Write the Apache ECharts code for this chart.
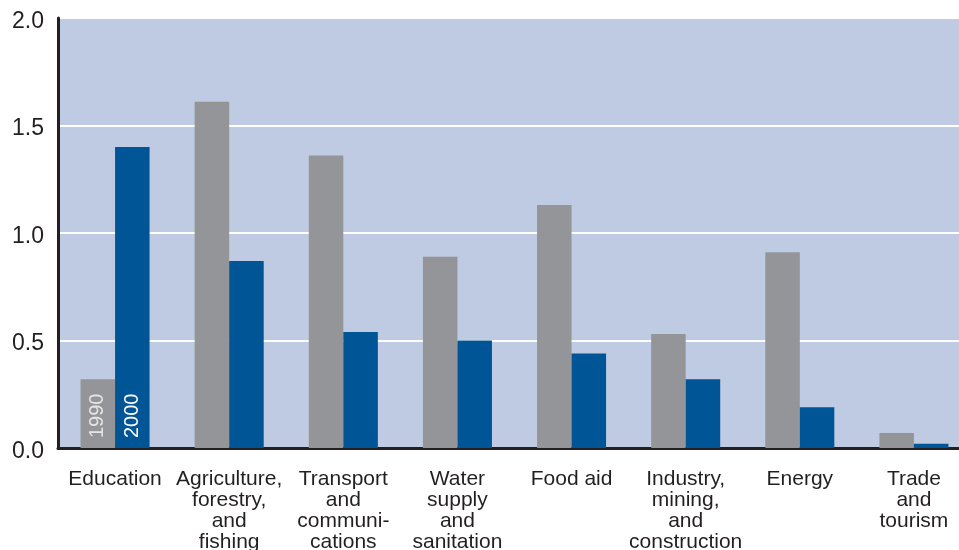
<!DOCTYPE html>
<html><head><meta charset="utf-8">
<script src="https://cdn.jsdelivr.net/npm/echarts@6/dist/echarts.min.js"></script>
<style>html,body{margin:0;padding:0;background:#fff}#c{width:959px;height:550px}</style>
</head><body><div id="c"></div>
<script>
const categories = ['Education','Agriculture,\nforestry,\nand\nfishing','Transport\nand\ncommuni-\ncations','Water\nsupply\nand\nsanitation','Food aid','Industry,\nmining,\nand\nconstruction','Energy','Trade\nand\ntourism'];
const values1990 = [0.32,1.61,1.36,0.89,1.13,0.53,0.91,0.07];
const values2000 = [1.40,0.87,0.54,0.50,0.44,0.32,0.19,0.02];
const yTicks = ['0.0','0.5','1.0','1.5','2.0'];
const font = 'Liberation Sans, Arial, Helvetica, sans-serif';
const chart = echarts.init(document.getElementById('c'));
function withLabel(arr, name, color){
  return arr.map((v,i)=> i===0 ? {value:v, label:{show:true, formatter:name, position:'insideBottom', rotate:90, align:'left', verticalAlign:'middle', distance:10, color:color, fontSize:20, fontFamily:font}} : v);
}
chart.setOption({
  animation:false,
  grid:{left:58,right:-12,top:18,bottom:102,backgroundColor:'#bfcbe3',show:true,borderWidth:0,outerBoundsMode:'none',containLabel:false},
  xAxis:{type:'category',data:categories,
    axisLine:{lineStyle:{color:'#231f20',width:3}},axisTick:{show:false},
    axisLabel:{color:'#231f20',fontSize:21,fontFamily:font,lineHeight:21,margin:21,interval:0}},
  yAxis:{type:'value',min:0,max:2,interval:0.5,
    axisLine:{show:true,lineStyle:{color:'#231f20',width:3}},axisTick:{show:false},
    splitLine:{lineStyle:{color:'#ffffff',width:2}},
    axisLabel:{color:'#231f20',fontSize:23,fontFamily:font,margin:14,
      formatter:(v)=>'{t|' + yTicks[Math.round(v*2)] + '}',
      rich:{t:{fontSize:23,fontFamily:font,color:'#231f20',padding:[7,0,0,0]}}}},
  series:[
    {type:'bar',name:'1990',data:withLabel(values1990,'1990','#e6e6e6'),itemStyle:{color:'#939598'},barGap:'0%',barCategoryGap:'39.5%'},
    {type:'bar',name:'2000',data:withLabel(values2000,'2000','#ffffff'),itemStyle:{color:'#005596'},barGap:'0%',barCategoryGap:'39.5%'}
  ]
});
</script></body></html>
